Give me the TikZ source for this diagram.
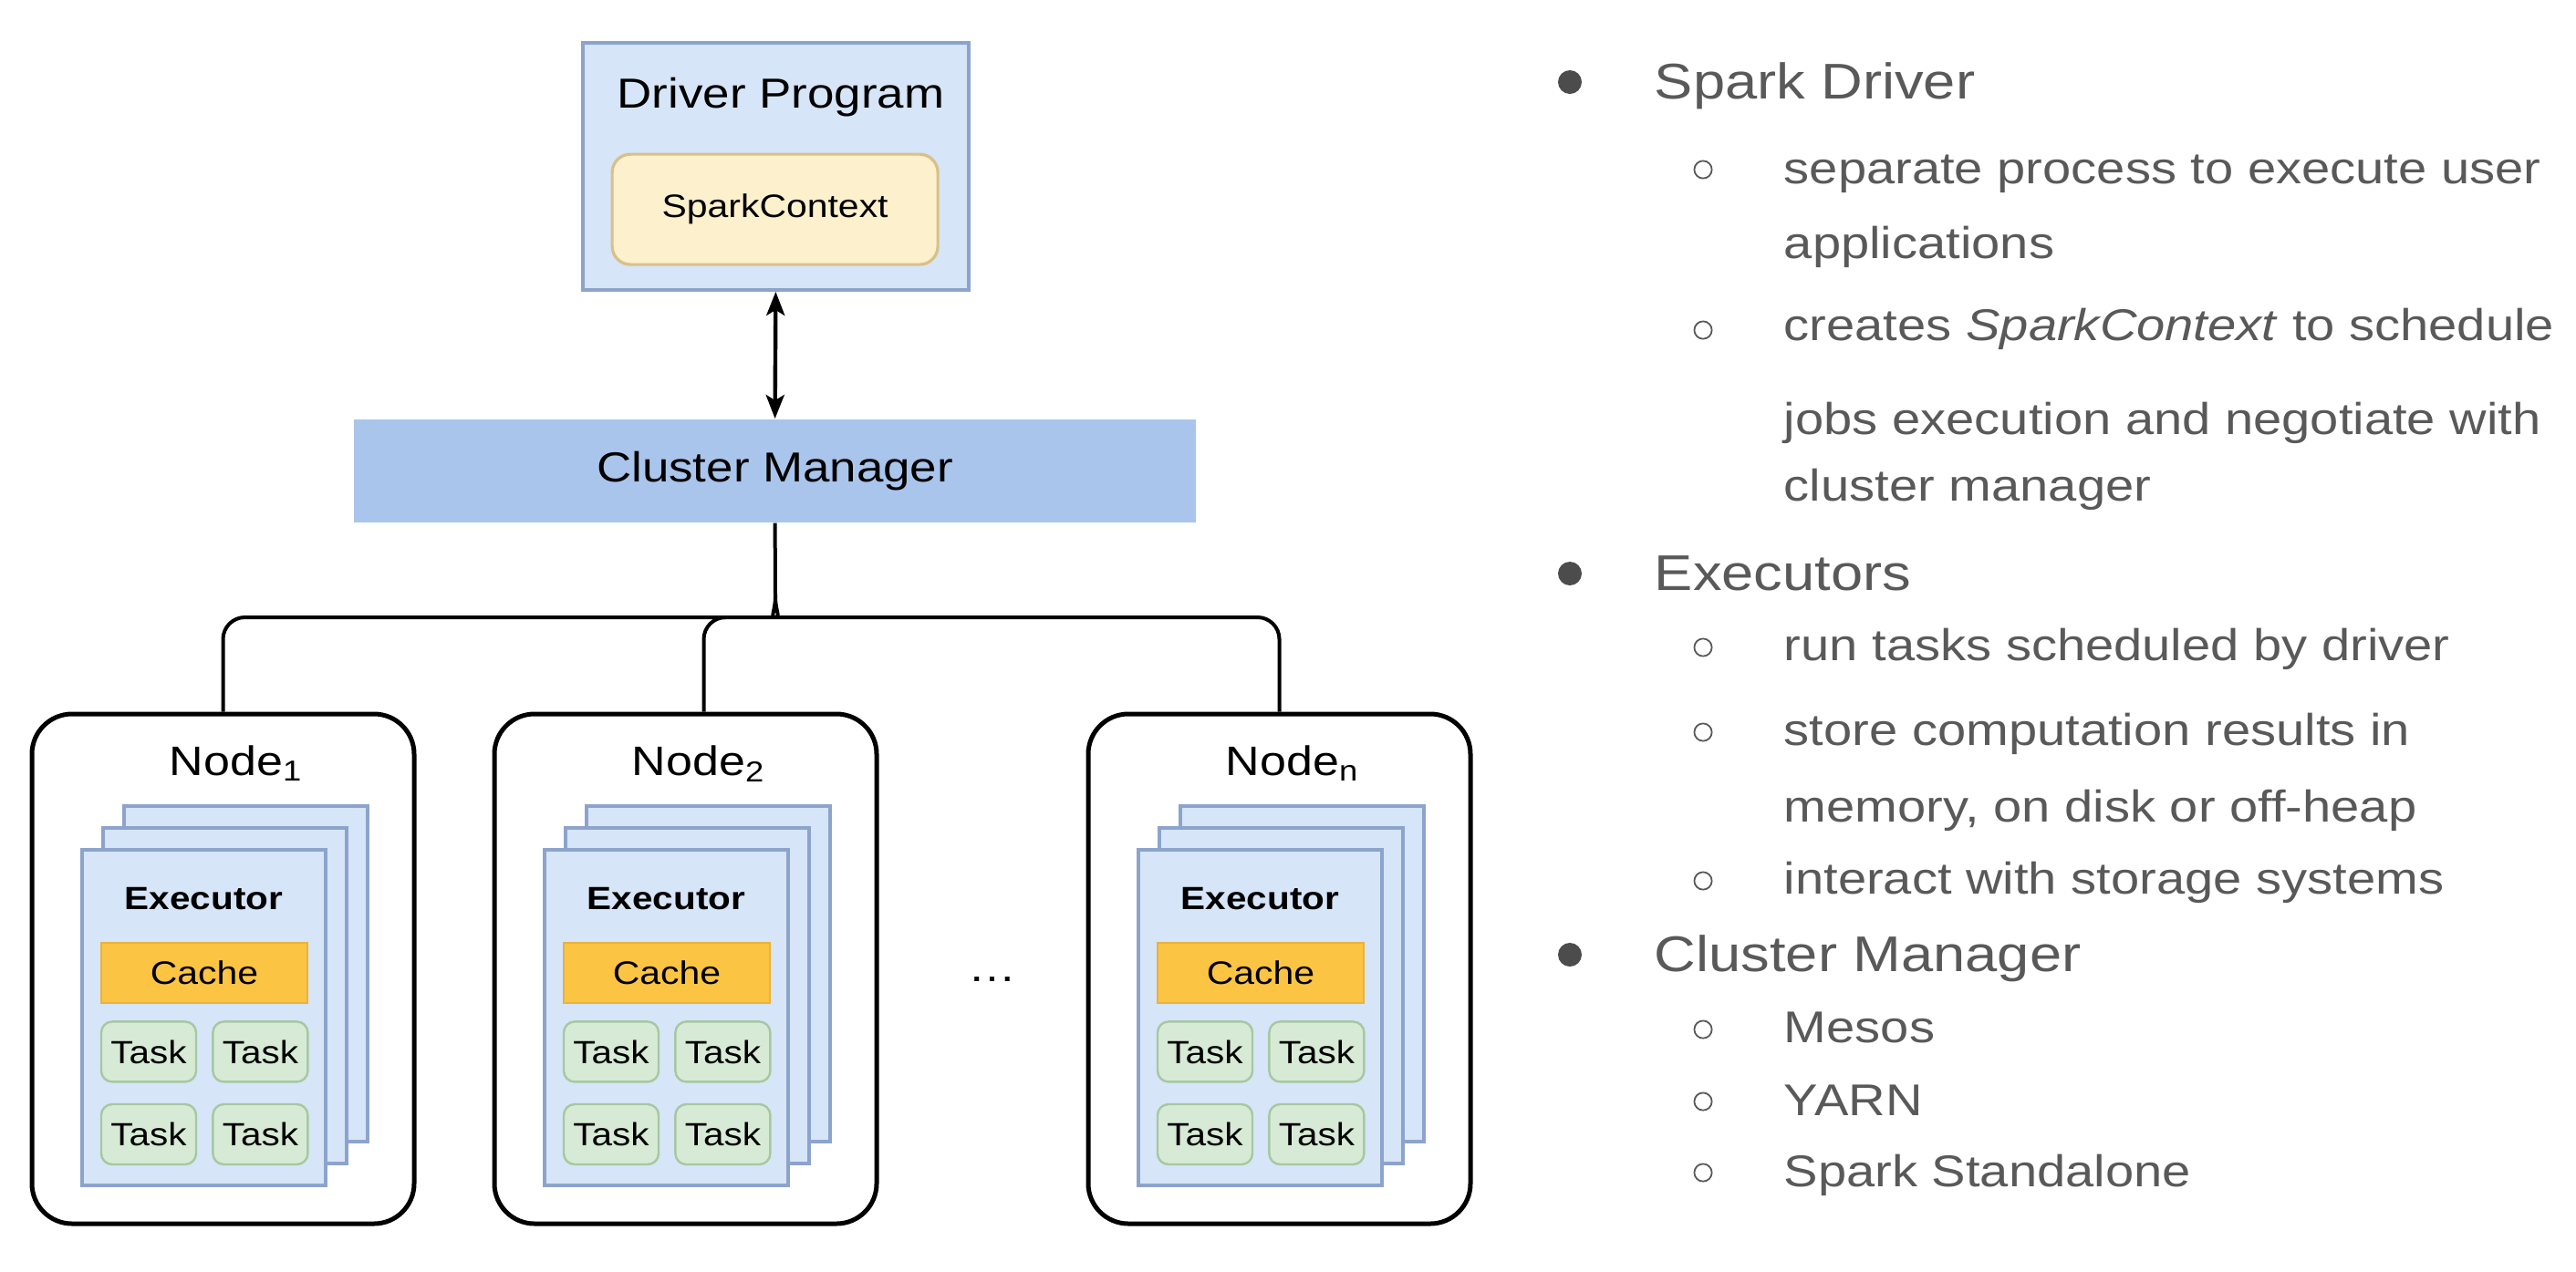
\documentclass[tikz,border=0pt]{standalone}
\usepackage{fontspec}
\setmainfont{Liberation Sans}[FakeStretch=1.15]
\usetikzlibrary{arrows.meta}

\definecolor{drvfill}{HTML}{D6E5F7}
\definecolor{drvline}{HTML}{8CA4CC}
\definecolor{scfill}{HTML}{FDF0CC}
\definecolor{scline}{HTML}{D9C089}
\definecolor{cmfill}{HTML}{A9C5EB}
\definecolor{cachefill}{HTML}{FCC443}
\definecolor{cacheline}{HTML}{E9B23C}
\definecolor{taskfill}{HTML}{D7EAD5}
\definecolor{taskline}{HTML}{A6C8A0}
\definecolor{txtgray}{HTML}{595959}

\begin{document}
\begin{tikzpicture}[x=1pt,y=-1pt,
    conn/.style={line width=1pt,rounded corners=6pt},
    nodebox/.style={draw,line width=1.25pt,rounded corners=11pt,fill=white,minimum width=104.75pt,minimum height=139.75pt,inner sep=0pt},
    sheet/.style={draw=drvline,fill=drvfill,line width=0.8pt,minimum width=66.75pt,minimum height=92pt,inner sep=0pt},
    cachebox/.style={draw=cacheline,fill=cachefill,line width=0.6pt,minimum width=56.5pt,minimum height=16.5pt,inner sep=0pt,font={\fontsize{8.9}{10}\selectfont}},
    taskbox/.style={draw=taskline,fill=taskfill,line width=0.6pt,rounded corners=3pt,minimum width=26pt,minimum height=16.5pt,inner sep=0pt,font={\fontsize{8.8}{10}\selectfont}},
    biglabel/.style={anchor=base,inner sep=0pt,font={\fontsize{11.5}{13}\selectfont}},
    head/.style={anchor=base west,inner sep=0pt,text=txtgray,font={\fontsize{13.75}{16}\selectfont}},
    item/.style={anchor=base west,inner sep=0pt,text=txtgray,font={\fontsize{12.2}{14}\selectfont}},
    dot/.style={circle,fill=txtgray!85!black,inner sep=0pt,minimum size=6.5pt},
    ring/.style={circle,draw=txtgray,line width=0.45pt,inner sep=0pt,minimum size=4.8pt}]
    \useasboundingbox (0,0) rectangle (706,348.5);

    % driver and cluster manager
    \node[draw=drvline,fill=drvfill,line width=1pt,minimum width=105.75pt,minimum height=67.75pt] (drv) at (212.6,45.6) {};
    \node[biglabel] (drvlab) at (214,29.5) {Driver Program};
    \node[draw=scline,fill=scfill,line width=0.8pt,rounded corners=5pt,minimum width=89.25pt,minimum height=30.25pt,font={\fontsize{8.9}{10}\selectfont}] (sc) at (212.4,57.4) {SparkContext};
    \node[fill=cmfill,minimum width=230.75pt,minimum height=28.25pt,font={\fontsize{11.5}{13}\selectfont}] (cm) at (212.4,129.1) {Cluster Manager};
    \draw[line width=1.1pt,{Stealth[length=6.5pt,width=5pt,inset=1.5pt]}-{Stealth[length=6.5pt,width=5pt,inset=1.5pt]}] (drv.south) -- (cm.north);

    % worker nodes
    \foreach \nm/\lx/\lab in {n1/8.75/1,n2/135.5/2,nn/298.25/n}{
      \begin{scope}[shift={(\lx,195.75)}]
        \node[nodebox] (\nm) at (52.375,69.875) {};
        \node[biglabel,font={\fontsize{11.3}{13}\selectfont}] (\nm-lab) at (56,16.75) {Node\textsubscript{\lab}};
        \node[sheet] (\nm-s3) at (58.6,71.25) {};
        \node[sheet] (\nm-s2) at (52.85,77.25) {};
        \node[sheet] (\nm-s1) at (47.1,83.25) {};
        \node[anchor=base,inner sep=0pt,font={\fontsize{8.8}{10}\selectfont\bfseries}] (\nm-ex) at (47.1,53.5) {Executor};
        \node[cachebox] (\nm-cache) at (47.25,71) {Cache};
        \node[taskbox] (\nm-t1) at (32,92.6) {Task};
        \node[taskbox] (\nm-t2) at (62.6,92.6) {Task};
        \node[taskbox] (\nm-t3) at (32,115.25) {Task};
        \node[taskbox] (\nm-t4) at (62.6,115.25) {Task};
      \end{scope}
    }
    \node[biglabel,anchor=center] (dots) at (272,268.5) {\dots};

    % cluster manager to nodes
    \coordinate (split) at (212.5,163.5);
    \coordinate (bl) at (206.5,169.25);
    \coordinate (br) at (218.5,169.25);
    \draw[conn] (cm.south) -- (split);
    \draw[conn] (split) .. controls (212.5,167.5) and (211,169.25) .. (bl) -| (n1.north);
    \draw[conn] (split) .. controls (212.5,167.5) and (214,169.25) .. (br) -| (nn.north);
    \draw[conn] (199,169.25) -| ([xshift=5pt]n2.north);

    % bullet list
    \node[dot] (b-drv) at (430.25,22.5) {};
    \node[head] (h-drv) at (453.25,27) {Spark Driver};
    \node[ring] (r-drv1) at (466.75,46.5) {};
    \node[item] (i-drv1a) at (488.75,50.25) {separate process to execute user};
    \node[item] (i-drv1b) at (488.75,70.75) {applications};
    \node[ring] (r-drv2) at (466.75,90.5) {};
    \node[item] (i-drv2a) at (488.75,93.25) {creates \textit{SparkContext} to schedule};
    \node[item] (i-drv2b) at (488.75,119) {jobs execution and negotiate with};
    \node[item] (i-drv2c) at (488.75,137.25) {cluster manager};

    \node[dot] (b-ex) at (430.25,157.25) {};
    \node[head] (h-ex) at (453.25,161.75) {Executors};
    \node[ring] (r-ex1) at (466.75,177.5) {};
    \node[item] (i-ex1) at (488.75,181) {run tasks scheduled by driver};
    \node[ring] (r-ex2) at (466.75,200.75) {};
    \node[item] (i-ex2a) at (488.75,204.25) {store computation results in};
    \node[item] (i-ex2b) at (488.75,225.25) {memory, on disk or off-heap};
    \node[ring] (r-ex3) at (466.75,241.5) {};
    \node[item] (i-ex3) at (488.75,245) {interact with storage systems};

    \node[dot] (b-cm) at (430.25,261.75) {};
    \node[head] (h-cm) at (453.25,266.25) {Cluster Manager};
    \node[ring] (r-cm1) at (466.75,282.25) {};
    \node[item] (i-cm1) at (488.75,285.75) {Mesos};
    \node[ring] (r-cm2) at (466.75,302) {};
    \node[item] (i-cm2) at (488.75,305.75) {YARN};
    \node[ring] (r-cm3) at (466.75,321.5) {};
    \node[item] (i-cm3) at (488.75,325.25) {Spark Standalone};
\end{tikzpicture}
\end{document}
